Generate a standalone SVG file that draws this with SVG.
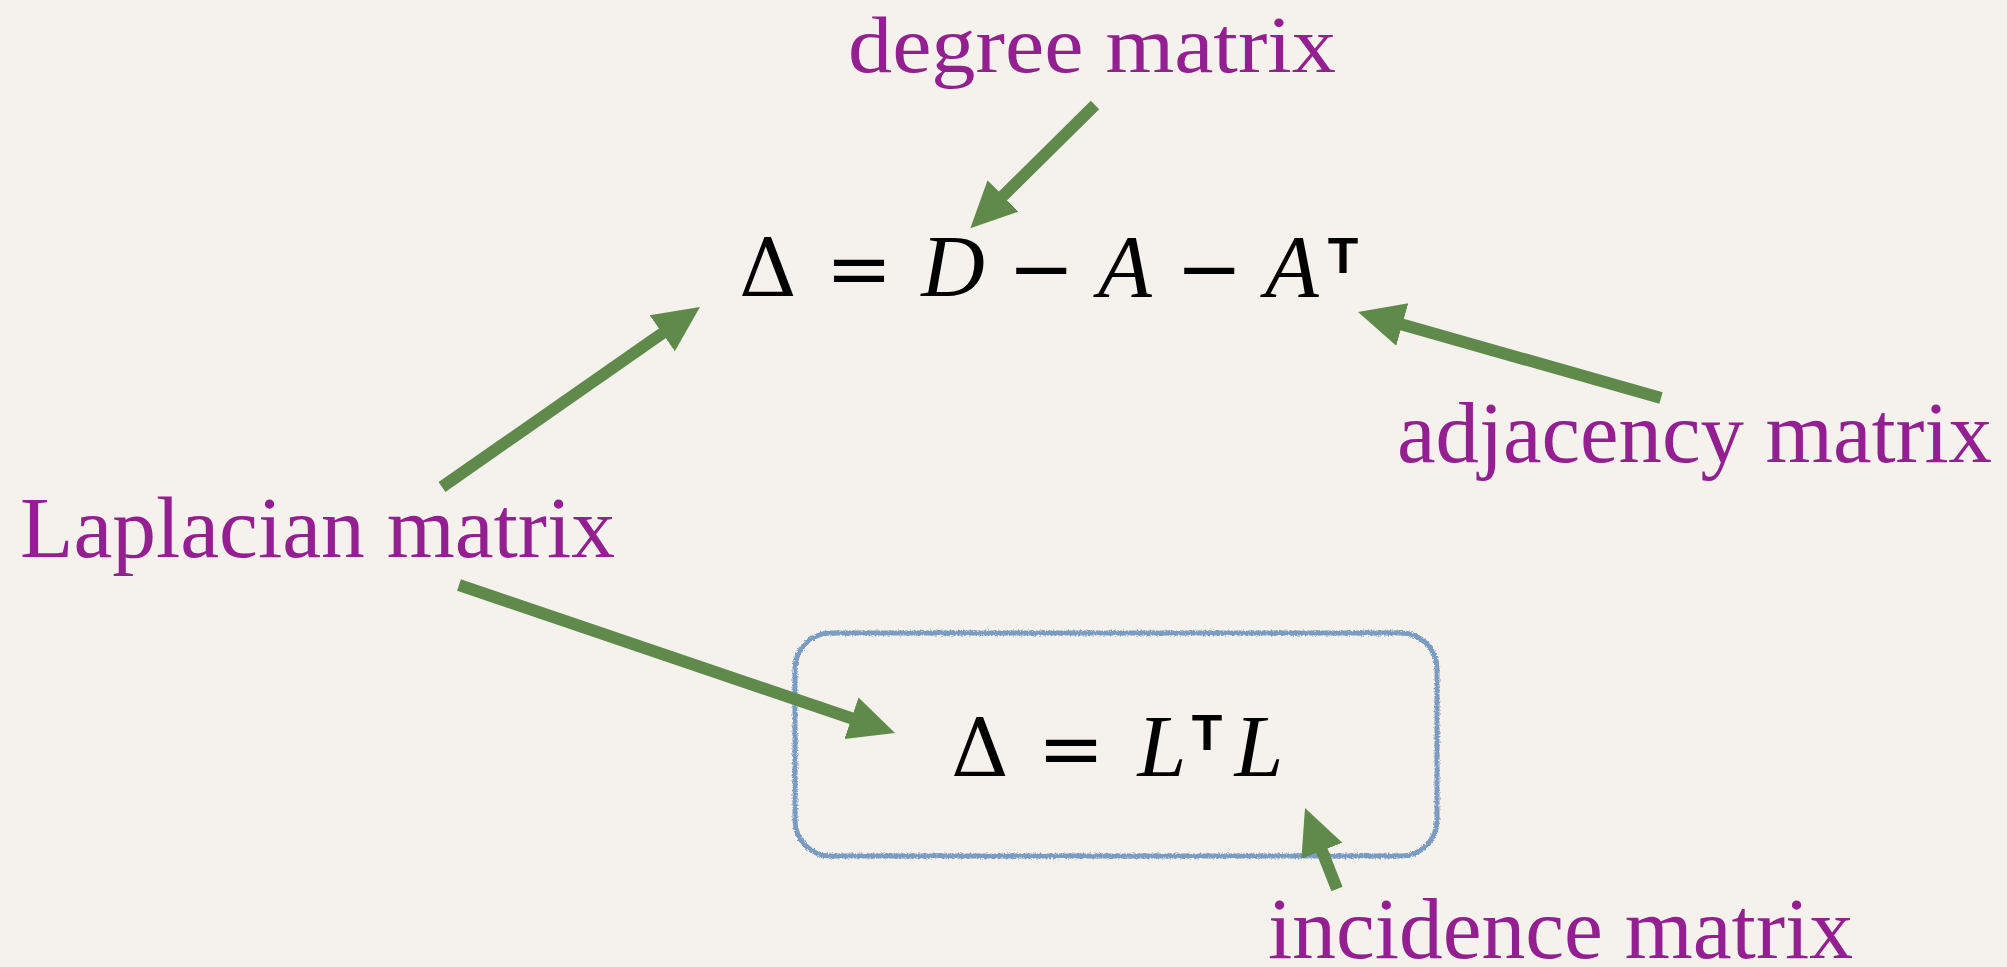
<svg xmlns="http://www.w3.org/2000/svg" width="2007" height="967" viewBox="0 0 2007 967">
  <style>
    .label { font-family: "Liberation Serif", "Times New Roman", serif; font-size: 86px; fill: #941f91; }
    .math { font-family: "Liberation Serif", "Times New Roman", serif; font-size: 88px; fill: #000; text-anchor: middle; }
    .op { font-family: "DejaVu Serif", "Liberation Serif", serif; font-size: 80px; fill: #000; text-anchor: middle; }
    .it { font-style: italic; }
    .sup { font-family: "Liberation Sans", Arial, sans-serif; font-weight: bold; font-size: 50px; fill: #000; text-anchor: middle; }
    .arrow { stroke: #5f8a4b; stroke-width: 12; fill: none; marker-end: url(#head); }
    .box { fill: none; stroke: #7a9bc2; stroke-width: 5; }
  </style>
  <defs>
    <marker id="head" markerUnits="userSpaceOnUse" markerWidth="46" markerHeight="46" viewBox="0 0 46 46" refX="3" refY="23" orient="auto">
      <path d="M0,1 L46,23 L0,45 z" fill="#5f8a4b"/>
    </marker>
    <filter id="rough" x="-5%" y="-5%" width="110%" height="110%">
      <feTurbulence type="fractalNoise" baseFrequency="0.6" numOctaves="2" seed="3" result="n"/>
      <feDisplacementMap in="SourceGraphic" in2="n" scale="4" xChannelSelector="R" yChannelSelector="G"/>
    </filter>
  </defs>
  <rect x="0" y="0" width="2007" height="967" fill="#f5f2ed"/>

  <g id="eq1">
    <text class="op" x="768" y="296">Δ</text>
    <text class="op" x="859" y="296">=</text>
    <text class="math it" x="953" y="296">D</text>
    <text class="op" x="1041" y="296">−</text>
    <text class="math it" x="1125" y="296">A</text>
    <text class="op" x="1209" y="296">−</text>
    <text class="math it" x="1292" y="296">A</text>
    <text class="sup" x="1343" y="273">T</text>
  </g>

  <g id="eq2">
    <rect class="box" x="795" y="633" width="642" height="223" rx="36" ry="36" filter="url(#rough)"/>
    <text class="op" x="980" y="776">Δ</text>
    <text class="op" x="1071" y="776">=</text>
    <text class="math it" x="1162" y="776">L</text>
    <text class="sup" x="1207" y="750">T</text>
    <text class="math it" x="1259" y="776">L</text>
  </g>

  <g id="degree">
    <text class="label" x="848" y="72" style="font-size:80px" textLength="488" lengthAdjust="spacingAndGlyphs">degree matrix</text>
  </g>
  <g id="adjacency">
    <text class="label" x="1397" y="462" textLength="595" lengthAdjust="spacingAndGlyphs">adjacency matrix</text>
  </g>
  <g id="laplacian">
    <text class="label" x="20" y="557" textLength="595" lengthAdjust="spacingAndGlyphs">Laplacian matrix</text>
  </g>
  <g id="incidence">
    <text class="label" x="1268" y="958" textLength="585" lengthAdjust="spacingAndGlyphs">incidence matrix</text>
  </g>

  <g id="connectors">
    <line class="arrow" x1="1095" y1="105" x2="1000.9" y2="198.1"/>
    <line class="arrow" x1="1661" y1="398" x2="1399.4" y2="323.7"/>
    <line class="arrow" x1="442" y1="487" x2="664.7" y2="331.6"/>
    <line class="arrow" x1="459" y1="585" x2="854.3" y2="719.2"/>
    <line class="arrow" x1="1337" y1="889" x2="1320.8" y2="848"/>
  </g>
</svg>
